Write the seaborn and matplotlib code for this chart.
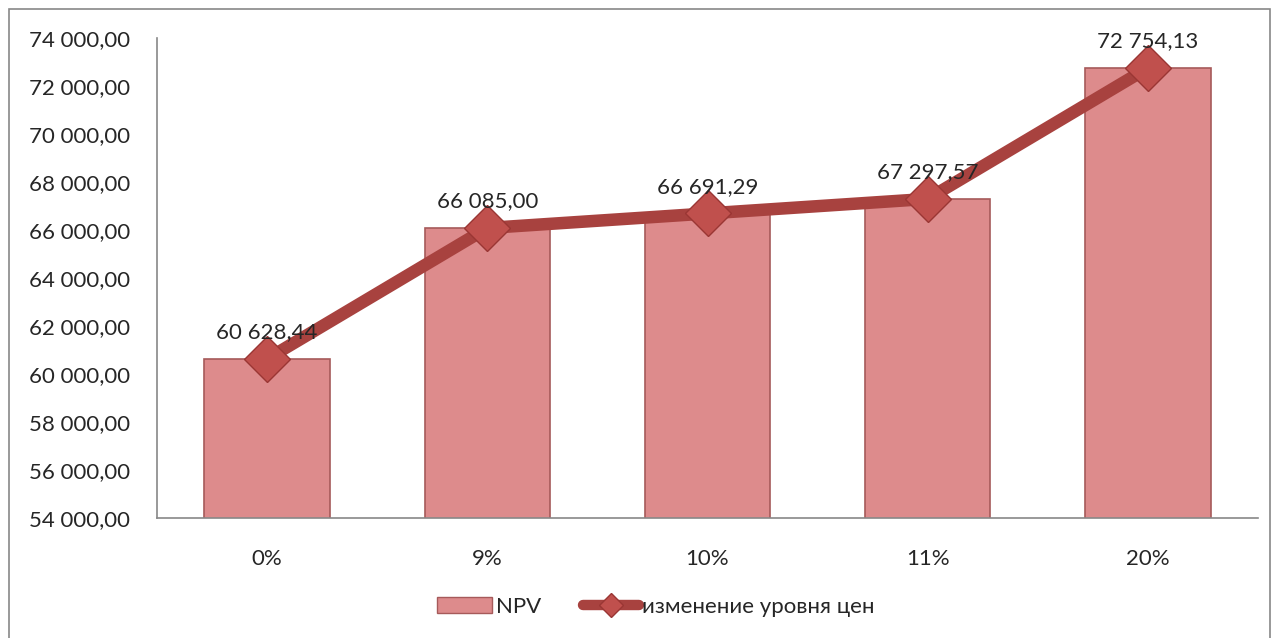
import numpy as np
import pandas as pd
import seaborn as sns
import matplotlib.pyplot as plt
from matplotlib.patches import Rectangle
from matplotlib.lines import Line2D
from matplotlib.patches import Patch
from matplotlib.ticker import FuncFormatter


categories = ["0%", "9%", "10%", "11%", "20%"]
npv = [60628.44, 66085.00, 66691.29, 67297.57, 72754.13]
labels = ["60 628,44", "66 085,00", "66 691,29", "67 297,57", "72 754,13"]
legend_labels = ["NPV", "изменение уровня цен"]

sns.set_style("white")
plt.rcParams['font.family'] = ['Lato', 'DejaVu Sans']

fig = plt.figure(figsize=(12.78, 6.38), dpi=100)
ax = fig.add_axes([0.1228, 0.188, 0.8616, 0.7524])

df = pd.DataFrame({"cat": categories, "npv": npv})
sns.barplot(data=df, x="cat", y="npv", ax=ax, color="#DD8B8C", saturation=1,
            width=0.57, edgecolor="#A65A5A", linewidth=1.2)

ax.plot(range(len(npv)), npv, color="#A8423F", linewidth=9, zorder=3,
        solid_capstyle="butt", marker="D", markersize=23,
        markerfacecolor="#C0504D", markeredgecolor="#9A3634", markeredgewidth=1)

for i, (v, t) in enumerate(zip(npv, labels)):
    ax.annotate(t, (i, v), xytext=(0, 12), textcoords="offset points",
                ha="center", va="bottom", fontsize=16, zorder=4)

ax.set_ylim(54000, 74000)
ax.set_yticks(np.arange(54000, 74001, 2000))
ax.yaxis.set_major_formatter(FuncFormatter(
    lambda v, p: f"{v:,.2f}".replace(",", " ").replace(".", ",")))
ax.set_xlim(-0.5, 4.5)
ax.set_xlabel("")
ax.set_ylabel("")
ax.tick_params(axis="both", labelsize=16, length=0)
ax.tick_params(axis="y", pad=19.5)
ax.tick_params(axis="x", pad=22)

for s in ["top", "right"]:
    ax.spines[s].set_visible(False)
for s in ["left", "bottom"]:
    ax.spines[s].set_color("#888888")
    ax.spines[s].set_linewidth(1.2)

handles = [
    Patch(facecolor="#DD8B8C", edgecolor="#A65A5A"),
    Line2D([0], [0], color="#A8423F", linewidth=7.5, marker="D", markersize=12,
           markerfacecolor="#C0504D", markeredgecolor="#9A3634"),
]
fig.legend(handles, legend_labels, loc="center", bbox_to_anchor=(0.513, 0.049),
           ncol=2, frameon=False, fontsize=16, handlelength=2.5,
           columnspacing=1.9, handletextpad=0.15)

fig.patches.append(Rectangle((9 / 1278, -10 / 638), 1261 / 1278, 639 / 638,
                             transform=fig.transFigure, fill=False,
                             edgecolor="#888888", linewidth=1.2))

fig.savefig("out.png", dpi=100)
